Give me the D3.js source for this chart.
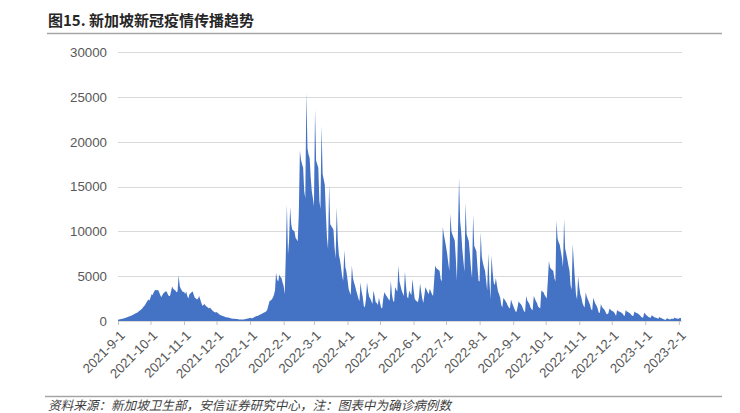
<!DOCTYPE html>
<html>
<head>
<meta charset="utf-8">
<script src="https://cdn.jsdelivr.net/npm/d3@7"></script>
<style>
  html, body { margin: 0; padding: 0; background: #fff; }
  svg { display: block; }
</style>
</head>
<body>
<svg id="chart" width="740" height="413"></svg>
<script>
// ---------- DATA (daily confirmed cases, from 2021-9-1) ----------
const startDate = "2021-09-01";
const cases2021_09 = [150,180,200,220,250,280,320,350,400,450,500,540,600,650,700,780,850,900,950,1050,1150,1250,1350,1500,1650,1800,2000,2200,2400,2300];
const cases2021_10 = [2600,3000,2900,3200,3400,3500,3400,3500,3200,2900,2650,2900,3100,3200,3300,3300,3000,2800,2800,3300,3850,3600,3500,3400,3200,3300,5100,3900,3600,3400,3200];
const cases2021_11 = [3300,3000,3300,2800,2500,3000,3100,3200,3300,2900,2600,2500,2400,2500,2800,2400,2000,1700,1800,1900,1700,1600,1500,1400,1500,1350,1200,1100,1000,950];
const cases2021_12 = [1000,900,800,700,650,600,550,500,450,420,400,380,330,300,280,260,250,240,230,220,200,180,170,160,170,180,200,220,250,270,300];
const cases2022_01 = [350,300,300,350,450,500,550,560,650,700,740,800,900,950,1000,1100,1300,1800,2230,2300,2400,2600,2900,3400,5400,4600,4400,5200,4900,4800,4300];
const cases2022_02 = [3900,3000,7400,13000,7400,9000,12700,10800,10200,10100,10000,9300,9100,8900,12000,19000,18000,17500,17100,14500,13700,25500,19300,18600,18200,16000,14500,13700];
const cases2022_03 = [12800,23600,17900,17500,17100,13400,12500,21800,16400,15800,15200,12000,9300,8000,15200,10800,10600,10400,10200,8200,7000,12700,9000,7400,6800,6000,5000,4500,7900,6000,5500];
const cases2022_04 = [4600,3600,3200,2900,6200,4800,4300,3900,3400,3000,2500,2200,4300,3300,2700,1700,1500,2400,4300,3300,2700,2500,2200,1900,3400,2800,2100,2000,1800,2600];
const cases2022_05 = [2000,1500,1400,2500,3200,3000,2800,2600,2400,2300,4500,3000,2300,2100,3800,3500,3300,6200,4400,3900,3400,3100,2800,5500,4000,2700,2500,3400,3100,2900,4700];
const cases2022_06 = [3500,2500,2300,2200,2100,2700,4200,3300,2500,2000,2900,3800,3500,3200,3000,3600,3300,3000,2800,4500,6200,5900,5800,5700,5600,4700,4400,10500,9600,9000];
const cases2022_07 = [8300,7500,6500,5600,12000,10000,9600,9300,9000,7000,4500,10000,16000,11200,9900,8000,6700,5500,13200,9700,9300,8900,7500,5900,4800,11900,8400,8100,7800,6000,4500];
const cases2022_08 = [4400,9900,7200,6500,6000,5600,4500,3400,7600,4500,2400,7300,5500,4300,4000,4800,4000,3300,3000,2600,1800,1500,2600,2400,2200,2000,1700,1500,1400,2400,2000];
const cases2022_09 = [1700,1400,1100,1000,1500,2200,2000,1900,1700,1400,1100,1000,2800,2300,2100,1900,1500,1300,1200,2800,2500,2200,2000,1600,1500,1400,3400,3300,3200,2900];
const cases2022_10 = [2700,2500,4500,6700,6000,5800,5700,5600,4800,4400,11200,9200,8800,8500,7800,7100,6000,11400,8100,7500,6900,6200,5600,4000,3500,8600,6500,4700,3000,2400,5000];
const cases2022_11 = [3800,3000,2600,2000,1700,1500,3200,2700,2400,2100,1800,1300,1200,2600,2200,1900,1700,1400,950,900,1900,1600,1400,1300,1100,800,750,900,1400,1250];
const cases2022_12 = [1150,1100,1000,800,550,1230,1100,1050,1000,930,850,650,550,1230,1050,1000,930,850,700,600,550,1050,950,900,850,750,650,500,400,370,930];
const cases2023_01 = [800,650,560,450,400,350,650,550,450,400,350,300,250,450,350,300,250,200,150,130,300,250,200,180,260,250,220,380,320,280,260];
const cases2023_02 = [250,350,300];

const yTicks = [0, 5000, 10000, 15000, 20000, 25000, 30000];
const titleText = "图15. 新加坡新冠疫情传播趋势";
const sourceText = "资料来源：新加坡卫生部，安信证券研究中心，注：图表中为确诊病例数";

// ---------- BUILD ----------
const allCases = [].concat(cases2021_09, cases2021_10, cases2021_11, cases2021_12,
  cases2022_01, cases2022_02, cases2022_03, cases2022_04, cases2022_05, cases2022_06,
  cases2022_07, cases2022_08, cases2022_09, cases2022_10, cases2022_11, cases2022_12,
  cases2023_01, cases2023_02);
const t0 = new Date(startDate + "T00:00:00Z");
const data = allCases.map((v, i) => ({ date: d3.utcDay.offset(t0, i), value: v }));

const svg = d3.select("#chart");
const plotLeft = 118, plotRight = 681, plotTop = 52.3, plotBottom = 321;

const x = d3.scaleUtc()
  .domain([t0, data[data.length - 1].date])
  .range([plotLeft, plotRight]);
const y = d3.scaleLinear().domain([0, 30000]).range([plotBottom, plotTop]);

const txtFont = "'Liberation Sans', Arial, sans-serif";
const grey = "#595959";

// Title
svg.append("text")
  .attr("x", 48).attr("y", 26)
  .attr("font-family", "'Noto Sans CJK SC', sans-serif")
  .attr("font-weight", "bold")
  .attr("font-size", 15)
  .attr("fill", "#262626")
  .text(titleText);
svg.append("line")
  .attr("x1", 47).attr("x2", 722).attr("y1", 33.5).attr("y2", 33.5)
  .attr("stroke", "#a6a6a6").attr("stroke-width", 1.5);

// Gridlines
svg.append("g").selectAll("line")
  .data(yTicks.filter(d => d > 0))
  .join("line")
  .attr("x1", plotLeft).attr("x2", plotRight + 1)
  .attr("y1", d => Math.round(y(d)) + 0.5).attr("y2", d => Math.round(y(d)) + 0.5)
  .attr("stroke", "#d9d9d9").attr("stroke-width", 1);

// Y axis labels
const yAxis = d3.axisLeft(y).tickValues(yTicks).tickSize(0).tickPadding(0)
  .tickFormat(d3.format("d"));
const gy = svg.append("g").attr("transform", `translate(107,0)`).call(yAxis);
gy.select(".domain").remove();
gy.selectAll("text")
  .attr("font-family", txtFont).attr("font-size", 13.3).attr("fill", grey);

// Area
const area = d3.area()
  .x(d => x(d.date))
  .y0(y(0))
  .y1(d => y(d.value))
  .curve(d3.curveLinear);
svg.append("path")
  .datum(data)
  .attr("d", area)
  .attr("fill", "#4472c4");

// X axis
const xAxis = d3.axisBottom(x)
  .ticks(d3.utcMonth.every(1))
  .tickSize(4)
  .tickFormat(d => `${d.getUTCFullYear()}-${d.getUTCMonth() + 1}-${d.getUTCDate()}`);
const gx = svg.append("g").attr("transform", `translate(0,${plotBottom})`).call(xAxis);
gx.select(".domain").attr("stroke", "#d9d9d9").attr("d", `M${plotLeft},0.5H${plotRight + 1}`);
gx.selectAll(".tick line").attr("stroke", "#bfbfbf");
gx.selectAll(".tick text")
  .attr("font-family", txtFont).attr("font-size", 13.3).attr("fill", grey)
  .attr("text-anchor", "end")
  .attr("dy", "0.35em")
  .attr("transform", "translate(4,12) rotate(-45)")
  .attr("y", 0).attr("x", 0);

// Bottom rule + source
svg.append("line")
  .attr("x1", 45).attr("x2", 722).attr("y1", 396.5).attr("y2", 396.5)
  .attr("stroke", "#a6a6a6").attr("stroke-width", 1.5);
svg.append("text")
  .attr("x", 48).attr("y", 410)
  .attr("font-family", "'Noto Sans CJK SC', sans-serif")
  .attr("font-style", "italic")
  .attr("font-size", 12.6)
  .attr("fill", "#404040")
  .text(sourceText);
</script>
</body>
</html>
